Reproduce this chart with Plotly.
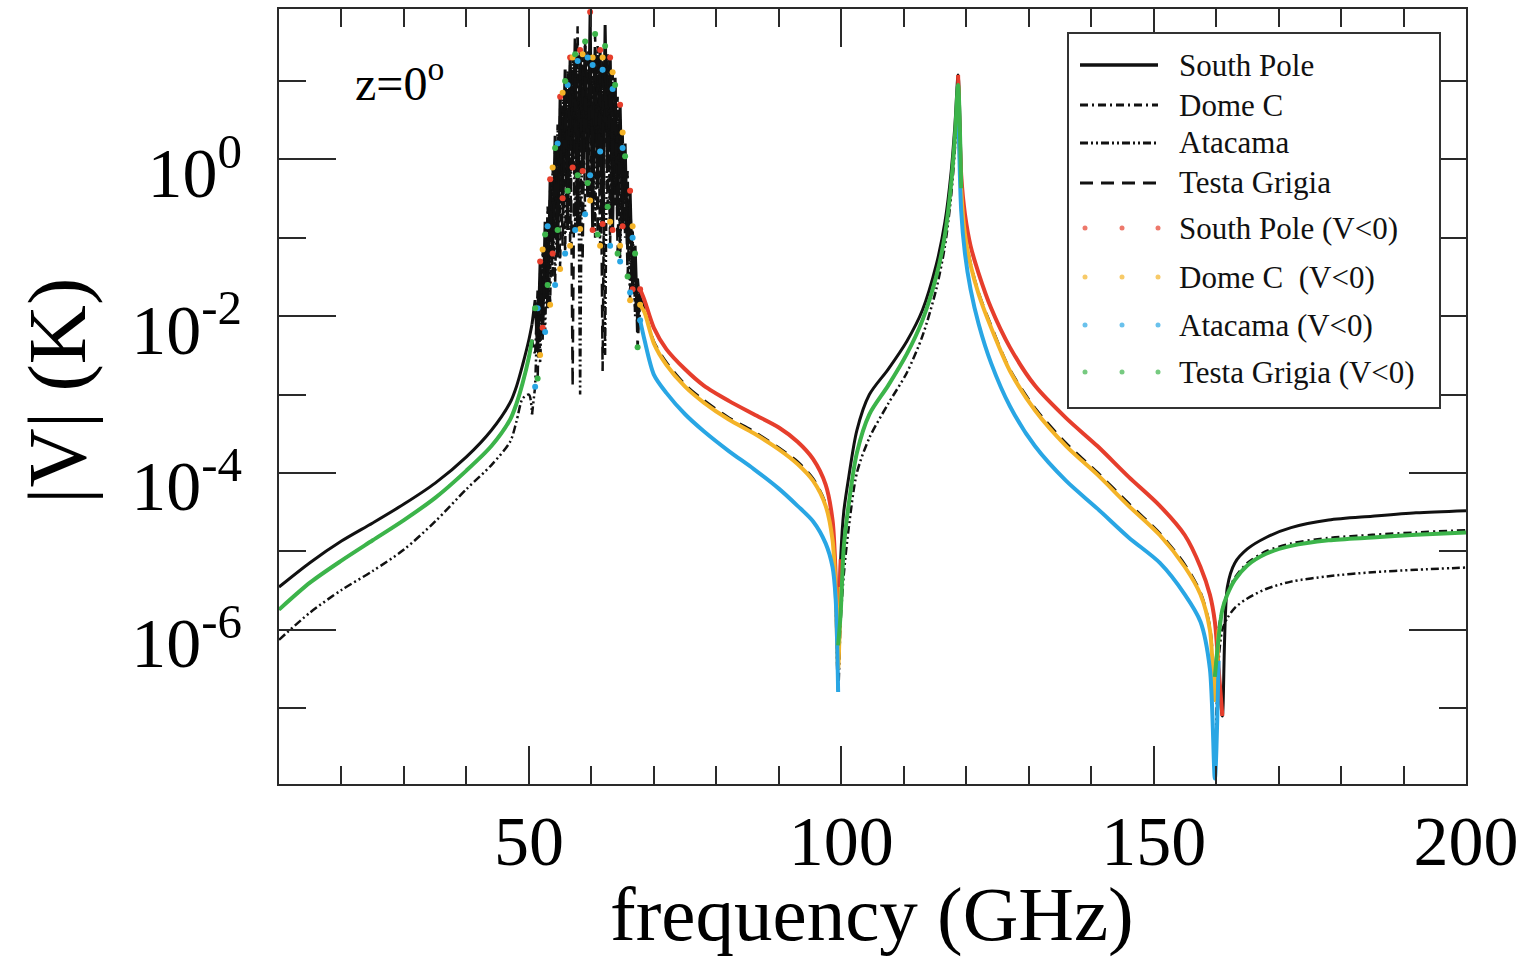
import plotly.graph_objects as go

# ---------------------------------------------------------------------------
# Frequency grid (GHz), split by spectral region
# ---------------------------------------------------------------------------
freq_low = [10, 15, 20, 25, 30, 35, 40, 44, 47, 48, 49, 50, 50.5]
freq_o2_band = [51.0, 51.4, 51.8, 52.2, 52.6, 53.0, 53.4, 53.8, 54.2, 54.6,
                55.0, 55.4, 55.8, 56.2, 56.6, 57.0, 57.4, 57.8, 58.2, 58.6,
                59.0, 59.4, 59.8, 60.2, 60.6, 61.0, 61.4, 61.8, 62.2, 62.6,
                63.0, 63.4, 63.8, 64.2, 64.6, 65.0, 65.4, 65.8, 66.2, 66.6,
                67.0, 67.4, 67.8]
freq_mid = [68.5, 70, 72, 75, 78, 82, 86, 90, 93, 95.5, 97.5, 98.6, 99.1, 99.5, 99.9]
freq_118_low = [100.4, 101.2, 102.5, 104.5, 107.5, 110.5, 113, 115.2, 116.6, 117.6, 118.2, 118.7]
freq_118_high = [119.2, 119.8, 120.7, 122, 124, 127, 131, 136, 141, 146, 151, 155,
                 157.5, 159, 159.8, 160.4, 161.0]
freq_high = [161.8, 163, 165, 168, 172, 178, 185, 192, 200]

freq_ghz = freq_low + freq_o2_band + freq_mid + freq_118_low + freq_118_high + freq_high

# ---------------------------------------------------------------------------
# Stokes V (K) at zenith, signed, one list per site (same order as freq_ghz)
# ---------------------------------------------------------------------------
south_pole_v = [
    3.5e-6, 7.2e-6, 1.35e-5, 2.3e-5, 4.0e-5, 7.4e-5, 1.6e-4, 3.5e-4, 7.9e-4, 1.26e-3, 2.4e-3, 5.0e-3, 7.9e-3,
    1.6e-2, 3.5e-3, -5.0e-2, -7.1e-3, 0.16, 1.26e-2, -0.56, -6.3e-2, 2.0, 5.6e-2,
    -6.3, -0.32, 14, 0.126, -20, -0.79, 35, 0.126, -25, -0.71,
    28, 0.33, -76, -0.126, 22, 0.56, -25, -0.15, 52, 0.79,
    -20, -0.126, 11, 0.2, -5.0, -0.14, 1.6, 7.1e-2, -0.4, -2.2e-2,
    7.9e-2, 7.9e-3, -2.2e-2,
    -1.6e-2, -7.1e-3, -3.8e-3, -2.1e-3, -1.3e-3, -8.3e-4, -5.6e-4, -3.8e-4, -2.5e-4, -1.5e-4,
    -7.1e-5, -2.5e-5, -5.0e-6, -5.0e-7, 7.9e-6,
    3.2e-5, 8.9e-5, 3.5e-4, 1.0e-3, 2.1e-3, 4.8e-3, 1.2e-2, 4.5e-2, 0.16, 0.71, 2.8, 12,
    -0.63, -0.2, -7.9e-2, -3.5e-2, -1.26e-2, -4.0e-3, -1.3e-3, -5.0e-4, -2.2e-4, -8.9e-5,
    -3.8e-5, -1.6e-5, -6.3e-6, -2.8e-6, -1.26e-6, -3.2e-7, 7.9e-8,
    3.5e-6, 7.1e-6, 1.07e-5, 1.5e-5, 2.0e-5, 2.5e-5, 2.8e-5, 3.1e-5, 3.3e-5,
]

dome_c_v = [
    1.8e-6, 4.0e-6, 7.6e-6, 1.38e-5, 2.5e-5, 4.8e-5, 1.07e-4, 2.2e-4, 4.8e-4, 7.6e-4, 1.4e-3, 3.0e-3, 5.0e-3,
    3.2e-3, 2.2e-2, -3.2e-3, -7.1e-2, 1.6e-2, 0.25, -1.4e-2, -0.79, 0.1, 2.8,
    -4.0e-2, -7.1, 0.45, 14, -7.9e-2, -20, 0.56, 50, -0.13, -22,
    1.2, 25, -0.3, -20, 1.6, 28, -7.9e-2, -20, 2.1, 22,
    -0.16, -13, 0.35, 6.3, -7.9e-2, -2.2, 0.1, 0.71, -1.6e-2, -0.14,
    1.0e-2, 3.2e-2, -1.4e-2,
    -1.12e-2, -4.5e-3, -2.4e-3, -1.26e-3, -7.9e-4, -4.8e-4, -3.2e-4, -2.0e-4, -1.3e-4, -7.9e-5,
    -3.8e-5, -1.4e-5, -3.2e-6, -3.2e-7, 3.5e-6,
    1.12e-5, 4.0e-5, 1.8e-4, 5.6e-4, 1.3e-3, 3.3e-3, 8.9e-3, 3.2e-2, 0.11, 0.5, 2.0, 8.9,
    -0.4, -0.11, -4.5e-2, -1.9e-2, -7.1e-3, -2.0e-3, -6.3e-4, -2.2e-4, -9.5e-5, -3.8e-5,
    -1.6e-5, -6.3e-6, -2.8e-6, -1.0e-6, -1.26e-7, 1.0e-6, 1.8e-6,
    3.0e-6, 4.6e-6, 7.1e-6, 1.0e-5, 1.26e-5, 1.48e-5, 1.62e-5, 1.74e-5, 1.86e-5,
]

atacama_v = [
    7.4e-7, 1.66e-6, 3.2e-6, 5.6e-6, 1.05e-5, 2.4e-5, 6.2e-5, 1.26e-4, 2.5e-4, 4.5e-4, 8.9e-4, 1.0e-3, 5.6e-4,
    -1.26e-3, -1.26e-2, 2.5e-3, 4.0e-2, -6.3e-3, -0.14, 4.0e-2, 0.45, -2.5e-2, -1.6,
    0.2, 4.0, -6.3e-2, -8.9, 0.5, 14, -0.126, -18, 1.0e-3, 16,
    -0.2, -20, -0.63, -16, 0.1, 22, -1.26, -14, 3.2e-3, 18,
    -7.9e-2, -7.9, 0.25, 4.0, -5.0e-2, -1.4, 0.126, 0.45, -2.0e-2, -0.1,
    1.26e-2, 2.0e-2, -8.9e-3,
    -5.0e-3, -1.8e-3, -1.05e-3, -5.6e-4, -3.4e-4, -1.9e-4, -1.12e-4, -6.3e-5, -3.8e-5, -2.4e-5,
    -1.26e-5, -6.3e-6, -2.5e-6, 1.6e-7, 1.26e-6,
    5.0e-6, 2.0e-5, 1.0e-4, 2.8e-4, 7.6e-4, 1.9e-3, 5.6e-3, 2.2e-2, 7.9e-2, 0.35, 1.4, 7.1,
    -0.22, -6.3e-2, -2.2e-2, -7.9e-3, -2.5e-3, -7.1e-4, -2.2e-4, -7.9e-5, -3.5e-5, -1.5e-5,
    -7.1e-6, -2.8e-6, -1.26e-6, -3.2e-7, -1.26e-8, 4.0e-7, 1.0e-6,
    1.4e-6, 1.9e-6, 2.5e-6, 3.3e-6, 4.1e-6, 4.8e-6, 5.4e-6, 5.8e-6, 6.2e-6,
]

testa_grigia_v = [
    -1.8e-6, -4.0e-6, -7.6e-6, -1.38e-5, -2.5e-5, -4.8e-5, -1.07e-4, -2.2e-4, -4.8e-4, -7.6e-4, -1.4e-3, -3.0e-3, -5.0e-3,
    -1.26e-2, -1.6e-3, 3.5e-2, 5.0e-3, -0.11, -2.5e-2, 0.4, 3.2e-2, -1.4, -0.126,
    4.5, 7.9e-2, -10, -0.4, 16, 1.26e-3, -22, -0.63, 20, 5.0e-2,
    -32, -0.5, 25, 1.1, -40, -0.11, 20, 2.0e-3, -28, -0.25,
    18, 0.79, -8.9, -6.3e-2, 3.5, 0.25, -1.1, -3.2e-2, 0.28, 5.0e-2,
    -6.3e-2, -4.0e-3, 1.8e-2,
    1.2e-2, 4.8e-3, 2.6e-3, 1.35e-3, 8.5e-4, 5.1e-4, 3.4e-4, 2.1e-4, 1.4e-4, 8.5e-5,
    4.1e-5, 1.6e-5, 4.0e-6, 6.3e-7, -1.6e-6,
    -1.12e-5, -4.0e-5, -1.8e-4, -5.6e-4, -1.3e-3, -3.3e-3, -8.9e-3, -3.2e-2, -0.11, -0.5, -2.0, -8.9,
    0.43, 0.12, 4.8e-2, 2.0e-2, 7.6e-3, 2.1e-3, 6.8e-4, 2.4e-4, 1.02e-4, 4.1e-5,
    1.7e-5, 6.8e-6, 3.0e-6, 1.12e-6, 2.5e-7, -7.9e-7, -1.8e-6,
    -2.8e-6, -4.3e-6, -6.6e-6, -9.3e-6, -1.17e-5, -1.38e-5, -1.5e-5, -1.62e-5, -1.74e-5,
]

site_names = ["South Pole", "Dome C", "Atacama", "Testa Grigia"]
site_values = [south_pole_v, dome_c_v, atacama_v, testa_grigia_v]

# ---------------------------------------------------------------------------
# Styles
# ---------------------------------------------------------------------------
SERIF = "Liberation Serif"
BLACK = "#111111"
NEG_COLORS = ["#e63e2c", "#f4b328", "#29a6e4", "#3cb44a"]
POS_DASH = ["solid", "8px,4px,2px,4px", "8px,3px,2px,3px,2px,3px", "13px,8px"]
POS_WIDTH = [3, 2.5, 2.5, 2.5]
BAND_LO, BAND_HI = 50.9, 67.8   # O2 complex: jagged lines and V<0 dots

# Page geometry
W, H = 1530, 961
M_L, M_R, M_T, M_B = 279, 64, 9, 177
PW, PH = W - M_L - M_R, H - M_T - M_B


def px_x(p):
    return (p - M_L) / PW


def px_y(p):
    return (H - M_B - p) / PH


def split_by_sign(values):
    """|V| where V>0 (and where V<0), keeping neighbours so lines reach the zero crossings."""
    n = len(values)
    pos, neg = [None] * n, [None] * n
    for i, v in enumerate(values):
        near = [values[j] for j in (i - 1, i, i + 1) if 0 <= j < n]
        if any(u > 0 for u in near):
            pos[i] = abs(v)
        if any(u < 0 for u in near):
            neg[i] = abs(v)
    return pos, neg


def keep(xs, ys, test):
    return [y if test(f) else None for f, y in zip(xs, ys)]


def outside_band(f):
    return f <= BAND_LO or f >= BAND_HI


def in_band(f):
    return freq_low[-1] <= f <= freq_mid[0]


fig = go.Figure()

pos_list, neg_list = [], []
for vals in site_values:
    p, n = split_by_sign(vals)
    pos_list.append(p)
    neg_list.append(n)

# V > 0 : black curves (smooth wings, jagged inside the O2 complex)
for k, name in enumerate(site_names):
    line = dict(color=BLACK, width=POS_WIDTH[k], dash=POS_DASH[k])
    fig.add_trace(go.Scatter(
        x=freq_ghz, y=keep(freq_ghz, pos_list[k], outside_band), mode="lines", name=name,
        line=dict(**line, shape="spline", smoothing=0.8),
        connectgaps=False, showlegend=False, hoverinfo="skip"))
    fig.add_trace(go.Scatter(
        x=freq_ghz, y=keep(freq_ghz, pos_list[k], in_band), mode="lines", name=name,
        line=line, connectgaps=False, showlegend=False, hoverinfo="skip"))

# V < 0 : coloured curves outside the O2 complex
for k, name in enumerate(site_names):
    fig.add_trace(go.Scatter(
        x=freq_ghz, y=keep(freq_ghz, neg_list[k], outside_band), mode="lines",
        name=name + " (V<0)",
        line=dict(color=NEG_COLORS[k], width=4, shape="spline", smoothing=0.8),
        connectgaps=False, showlegend=False, hoverinfo="skip"))

# V < 0 : coloured dots inside the O2 complex
for k, name in enumerate(site_names):
    vals = site_values[k]
    pts = [(f, abs(v)) for f, v in zip(freq_ghz, vals)
           if freq_o2_band[0] <= f <= freq_o2_band[-1] and v < 0]
    fig.add_trace(go.Scatter(
        x=[p[0] for p in pts], y=[p[1] for p in pts], mode="markers",
        marker=dict(color=NEG_COLORS[k], size=6, line=dict(width=0)),
        showlegend=False, hoverinfo="skip"))

# empty trace to anchor the mirrored (top / right) tick axes
fig.add_trace(go.Scatter(x=[None], y=[None], xaxis="x2", yaxis="y2",
                         showlegend=False, hoverinfo="skip"))

# ---------------------------------------------------------------------------
# Axes
# ---------------------------------------------------------------------------
x_major = [50, 100, 150, 200]
x_minor = [20, 30, 40, 60, 70, 80, 90, 110, 120, 130, 140, 160, 170, 180, 190]
y_major = [1e-6, 1e-4, 1e-2, 1]
y_major_text = ["10<sup>-6</sup>", "10<sup>-4</sup>", "10<sup>-2</sup>", "10<sup>0</sup>"]
y_minor = [1e-7, 1e-5, 1e-3, 1e-1, 10]
X_RANGE = [10, 200]
Y_RANGE = [-7.97, 1.92]
TICK_COLOR = "#2a2a2a"

x_common = dict(range=X_RANGE, tickmode="array", tickvals=x_major, ticks="inside",
                ticklen=38, tickwidth=2, tickcolor=TICK_COLOR,
                minor=dict(tickmode="array", tickvals=x_minor, ticks="inside",
                           ticklen=18, tickwidth=2, tickcolor=TICK_COLOR),
                showgrid=False, zeroline=False, automargin=False)
y_common = dict(type="log", range=Y_RANGE, tickmode="array", tickvals=y_major,
                ticks="inside", ticklen=57, tickwidth=2, tickcolor=TICK_COLOR,
                minor=dict(tickmode="array", tickvals=y_minor, ticks="inside",
                           ticklen=27, tickwidth=2, tickcolor=TICK_COLOR),
                showgrid=False, zeroline=False, automargin=False)

fig.update_layout(
    width=W, height=H,
    margin=dict(l=M_L, r=M_R, t=M_T, b=M_B, pad=0),
    paper_bgcolor="white", plot_bgcolor="white",
    showlegend=False,
    xaxis=dict(**x_common, showline=True, linewidth=2, linecolor=TICK_COLOR, mirror=True,
               ticktext=[str(v) for v in x_major],
               tickfont=dict(family=SERIF, size=70, color="black"),
               ticklabelstandoff=-5),
    yaxis=dict(**y_common, showline=True, linewidth=2, linecolor=TICK_COLOR, mirror=True,
               ticktext=y_major_text,
               tickfont=dict(family=SERIF, size=70, color="black"),
               ticklabelstandoff=21, ticklabelshift=13),
    xaxis2=dict(**x_common, overlaying="x", side="top", anchor="y2",
                showticklabels=False, showline=False),
    yaxis2=dict(**y_common, overlaying="y", side="right", anchor="x2",
                showticklabels=False, showline=False),
)

# ---------------------------------------------------------------------------
# Titles and labels
# ---------------------------------------------------------------------------
annotations = [
    dict(text="frequency (GHz)", x=px_x(872), y=px_y(914), xref="paper", yref="paper",
         xanchor="center", yanchor="middle", showarrow=False,
         font=dict(family=SERIF, size=77, color="black")),
    dict(text="|V| (K)", x=px_x(57), y=px_y(391), xref="paper", yref="paper",
         xanchor="center", yanchor="middle", textangle=-90, showarrow=False,
         font=dict(family=SERIF, size=82, color="black")),
    dict(text="z=0<sup>o</sup>", x=px_x(353), y=px_y(80), xref="paper", yref="paper",
         xanchor="left", yanchor="middle", showarrow=False,
         font=dict(family=SERIF, size=48, color="black")),
]

# ---------------------------------------------------------------------------
# Legend box (drawn by hand so the keys match the long line samples)
# ---------------------------------------------------------------------------
LEG_BOX = (1068, 33, 1440, 408)
LEG_ROWS = [65, 105, 143, 183, 228, 277, 325, 372]
LEG_KEY = (1080, 1158)
LEG_DOTS = [1085, 1122, 1158]
LEG_TEXT_X = 1177
legend_labels = ["South Pole", "Dome C", "Atacama", "Testa Grigia",
                 "South Pole (V&lt;0)", "Dome C&nbsp;&nbsp;(V&lt;0)",
                 "Atacama (V&lt;0)", "Testa Grigia (V&lt;0)"]

shapes = [dict(type="rect", xref="paper", yref="paper",
               x0=px_x(LEG_BOX[0]), x1=px_x(LEG_BOX[2]),
               y0=px_y(LEG_BOX[3]), y1=px_y(LEG_BOX[1]),
               line=dict(color="#333333", width=2), fillcolor="white", layer="above")]

for k in range(4):
    yy = px_y(LEG_ROWS[k])
    shapes.append(dict(type="line", xref="paper", yref="paper",
                       x0=px_x(LEG_KEY[0]), x1=px_x(LEG_KEY[1]), y0=yy, y1=yy,
                       line=dict(color=BLACK, width=POS_WIDTH[k] + 0.5, dash=POS_DASH[k]),
                       layer="above"))
for k in range(4):
    yc = LEG_ROWS[4 + k]
    for xd in LEG_DOTS:
        shapes.append(dict(type="circle", xref="paper", yref="paper",
                           x0=px_x(xd - 2.5), x1=px_x(xd + 2.5),
                           y0=px_y(yc + 2.5), y1=px_y(yc - 2.5),
                           line=dict(width=0), fillcolor=NEG_COLORS[k], opacity=0.7,
                           layer="above"))

for label, row in zip(legend_labels, LEG_ROWS):
    annotations.append(dict(text=label, x=px_x(LEG_TEXT_X), y=px_y(row),
                            xref="paper", yref="paper", xanchor="left", yanchor="middle",
                            showarrow=False, font=dict(family=SERIF, size=31, color="#111111")))

fig.update_layout(shapes=shapes, annotations=annotations)

fig.write_html("out.html")
